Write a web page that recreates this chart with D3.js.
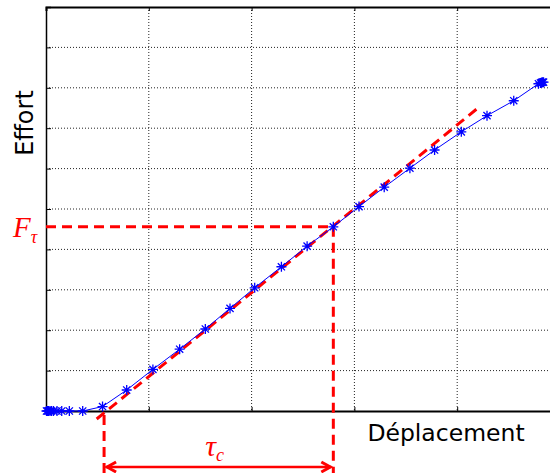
<!DOCTYPE html>
<html>
<head>
<meta charset="utf-8">
<script src="https://cdn.jsdelivr.net/npm/d3@7"></script>
<style>
  html, body { margin: 0; padding: 0; background: #fff; }
  svg { display: block; }
</style>
</head>
<body>
<script>
// Measured load curve: displacement (x) vs. force (y), arbitrary units
const dispValues = [0.005, 0.015, 0.024, 0.039, 0.054, 0.073, 0.107, 0.153, 0.227, 0.357,
  0.55, 0.785, 1.04, 1.30, 1.55, 1.79, 2.03, 2.29, 2.54, 2.795, 3.045, 3.29, 3.54, 3.78,
  4.04, 4.29, 4.55, 4.79, 4.81, 4.82, 4.83, 4.84];
const forceValues = [0, 0, 0, 0, 0, 0, 0, 0, 0, 0,
  0.11, 0.52, 1.03, 1.53, 2.03, 2.54, 3.05, 3.57, 4.08, 4.56, 5.06, 5.54, 6.01, 6.46,
  6.91, 7.31, 7.68, 8.10, 8.12, 8.13, 8.14, 8.14];

// Linear fit of the elastic part (two end points of the dashed segment)
const tangentX = [0.493, 4.205];
const tangentY = [-0.198, 7.507];

// Characteristic point F_tau and the start of the linear stage
const fTauPoint = [2.795, 4.56];
const tauStartX = 0.565;

// Grid positions
const xGridTicks = [1, 2, 3, 4, 5];
const yGridTicks = [1, 2, 3, 4, 5, 6, 7, 8, 9];

const width = 550, height = 473;
const svg = d3.select("body").append("svg")
  .attr("width", width).attr("height", height);

const x = d3.scaleLinear().domain([0, 5]).range([46, 560]);
const y = d3.scaleLinear().domain([0, 10]).range([411, 7]);

const plot = svg.append("g");

// Dotted grid
plot.append("g").selectAll("line").data(xGridTicks).join("line")
  .attr("x1", d => x(d)).attr("x2", d => x(d))
  .attr("y1", y(10)).attr("y2", y(0))
  .attr("stroke", "#222").attr("stroke-width", 1).attr("stroke-dasharray", "1,2");
plot.append("g").selectAll("line").data(yGridTicks).join("line")
  .attr("x1", x(0)).attr("x2", x(5))
  .attr("y1", d => y(d)).attr("y2", d => y(d))
  .attr("stroke", "#222").attr("stroke-width", 1).attr("stroke-dasharray", "1,2");

// Axes with inward ticks, no labels
const bottomAxis = d3.axisTop(x).tickValues(xGridTicks).tickSize(4).tickFormat("");
const topAxis = d3.axisBottom(x).tickValues(xGridTicks).tickSize(4).tickFormat("");
const leftAxis = d3.axisRight(y).tickValues(yGridTicks).tickSize(5).tickFormat("");

function styleAxis(g, w) {
  g.select(".domain").attr("stroke", "#000").attr("stroke-width", w);
  g.selectAll(".tick line").attr("stroke", "#000").attr("stroke-width", 1);
}
plot.append("g").attr("transform", `translate(0,${y(0)})`).call(bottomAxis).call(g => styleAxis(g, 2));
plot.append("g").attr("transform", `translate(0,${y(10)})`).call(topAxis).call(g => styleAxis(g, 2));
plot.append("g").attr("transform", `translate(${x(0)},0)`).call(leftAxis).call(g => styleAxis(g, 1.5));

// Red dashed construction lines
const red = "#ff0000";
const dash = "10,6";
plot.append("line")
  .attr("x1", x(tangentX[0])).attr("y1", y(tangentY[0]))
  .attr("x2", x(tangentX[1])).attr("y2", y(tangentY[1]))
  .attr("stroke", red).attr("stroke-width", 3).attr("stroke-dasharray", dash);
plot.append("line")
  .attr("x1", x(0)).attr("y1", y(fTauPoint[1]))
  .attr("x2", x(fTauPoint[0])).attr("y2", y(fTauPoint[1]))
  .attr("stroke", red).attr("stroke-width", 3).attr("stroke-dasharray", dash);
plot.append("line")
  .attr("x1", x(fTauPoint[0])).attr("y1", y(fTauPoint[1]))
  .attr("x2", x(fTauPoint[0])).attr("y2", height)
  .attr("stroke", red).attr("stroke-width", 3).attr("stroke-dasharray", dash);
plot.append("line")
  .attr("x1", x(tauStartX)).attr("y1", y(-0.1))
  .attr("x2", x(tauStartX)).attr("y2", height)
  .attr("stroke", red).attr("stroke-width", 3).attr("stroke-dasharray", dash);

// Blue curve with asterisk markers
const pts = dispValues.map((d, i) => [d, forceValues[i]]);
plot.append("path")
  .datum(pts)
  .attr("fill", "none").attr("stroke", "#0000ff").attr("stroke-width", 1)
  .attr("d", d3.line().x(d => x(d[0])).y(d => y(d[1])));

const r = 5, rd = r * 0.72;
const starPath = `M${-r},0L${r},0M0,${-r}L0,${r}M${-rd},${-rd}L${rd},${rd}M${-rd},${rd}L${rd},${-rd}`;
plot.append("g").selectAll("path").data(pts).join("path")
  .attr("transform", d => `translate(${x(d[0])},${y(d[1])})`)
  .attr("d", starPath)
  .attr("fill", "none").attr("stroke", "#0000ff").attr("stroke-width", 1.3);

// Double-headed arrow for tau_c
const arrowY = 467;
const ax1 = x(tauStartX), ax2 = x(fTauPoint[0]);
svg.append("line")
  .attr("x1", ax1 + 2).attr("x2", ax2 - 2).attr("y1", arrowY).attr("y2", arrowY)
  .attr("stroke", red).attr("stroke-width", 2.5);
svg.append("path")
  .attr("d", `M${ax1 + 12},${arrowY - 5}L${ax1 + 3},${arrowY}L${ax1 + 12},${arrowY + 5}`)
  .attr("fill", "none").attr("stroke", red).attr("stroke-width", 3);
svg.append("path")
  .attr("d", `M${ax2 - 12},${arrowY - 5}L${ax2 - 3},${arrowY}L${ax2 - 12},${arrowY + 5}`)
  .attr("fill", "none").attr("stroke", red).attr("stroke-width", 3);

// Labels
const tauLabel = svg.append("text")
  .attr("x", (ax1 + ax2) / 2 - 4).attr("y", 456)
  .attr("text-anchor", "middle")
  .attr("font-family", "Liberation Serif, serif").attr("font-style", "italic")
  .attr("font-size", 30).attr("fill", red);
tauLabel.append("tspan").text("τ");
tauLabel.append("tspan").attr("font-size", 18).attr("dy", 5).text("c");

const fLabel = svg.append("text")
  .attr("x", 13).attr("y", y(fTauPoint[1]) + 10)
  .attr("font-family", "Liberation Serif, serif").attr("font-style", "italic")
  .attr("font-size", 29).attr("fill", red);
fLabel.append("tspan").text("F");
fLabel.append("tspan").attr("font-size", 18).attr("dy", 6).text("τ");

svg.append("text")
  .attr("transform", "translate(33,123) rotate(-90)")
  .attr("text-anchor", "middle")
  .attr("font-family", "DejaVu Sans, sans-serif").attr("font-size", 24)
  .attr("fill", "#000").text("Effort");

svg.append("text")
  .attr("x", 446).attr("y", 441)
  .attr("text-anchor", "middle")
  .attr("font-family", "DejaVu Sans, sans-serif").attr("font-size", 23.5)
  .attr("fill", "#000").text("Déplacement");
</script>
</body>
</html>
